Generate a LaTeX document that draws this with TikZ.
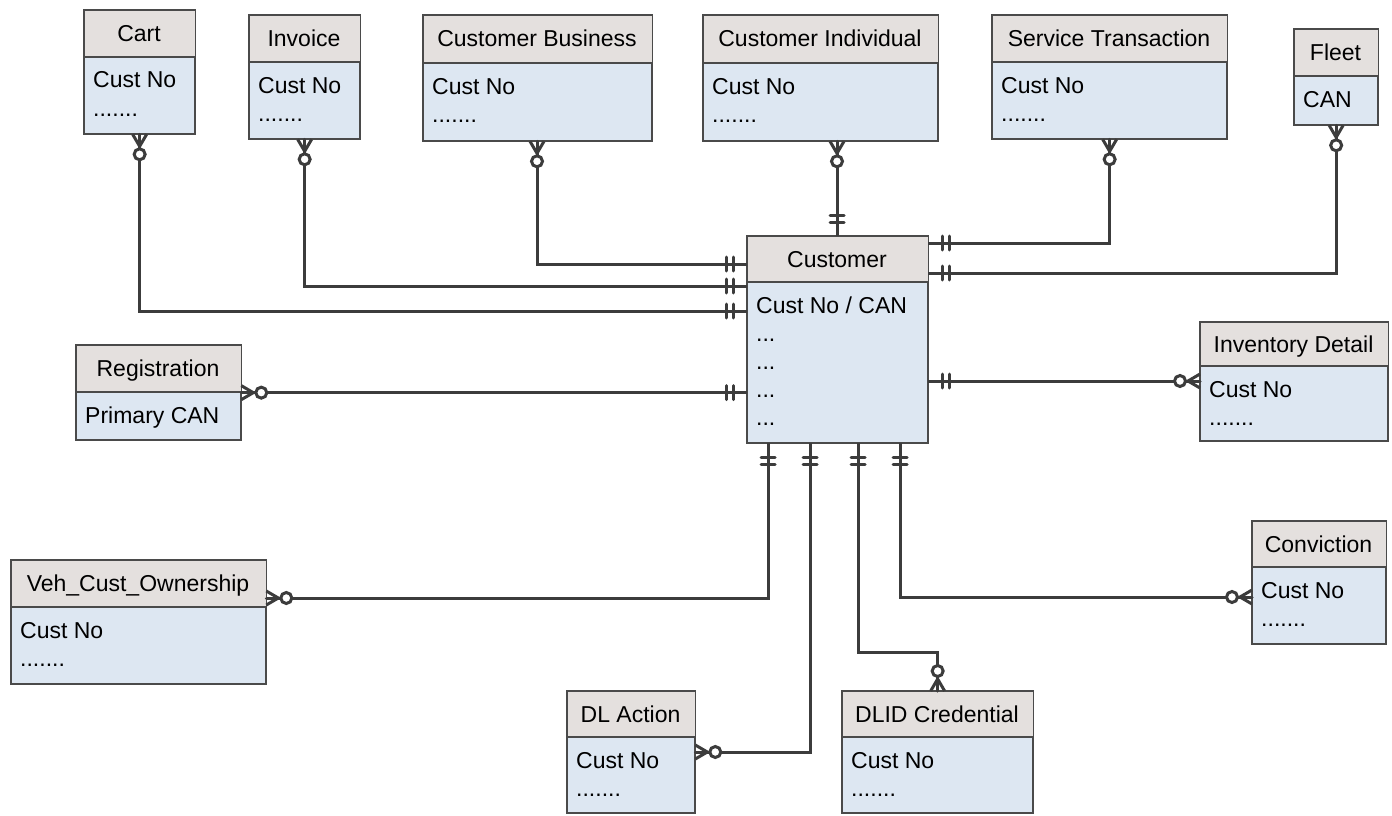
\documentclass[tikz,border=0pt]{standalone}
\usepackage{fontspec}
\setmainfont{Liberation Sans}
\definecolor{hdrfill}{HTML}{E4E0DE}
\definecolor{bodyfill}{HTML}{DDE7F2}
\definecolor{boxline}{HTML}{4A4A4A}
\definecolor{connline}{HTML}{3C3C3C}

% placeholder attribute rows
\newcommand\moreattrs{.......}
\newcommand\elided{...}

\tikzset{
  ent/.style={draw=boxline, line width=1.3pt, fill=bodyfill, inner sep=0pt, anchor=north west},
  txt/.style={font=\fontsize{23}{27}\selectfont, text=black, inner sep=0pt},
  conn/.style={draw=connline, line width=3pt},
  sym/.style={draw=connline, line width=3pt, line cap=round},
  % zero-or-many end: crow's foot at the box edge, open circle further out
  zeromany/.pic={
    \draw[sym, line cap=butt, line join=miter] (0,-7) -- (12,0) -- (0,7);
    \draw[sym] (0,0) -- (12,0);
    \draw[sym, fill=white] (20,0) circle (5.5);
  },
  % one-and-only-one end: two short bars
  mandone/.pic={
    \draw[sym] (14,-7) -- (14,7);
    \draw[sym] (21,-7) -- (21,7);
  }
}

% #1 name, #2 left, #3 top, #4 right, #5 header bottom, #6 bottom, #7 title, #8 attribute lines
\newcommand\erent[8]{%
  \node[ent, minimum width={(#4-#2)*1pt}, minimum height={(#6-#3)*1pt}] (#1) at (#2,-#3) {};
  \fill[hdrfill] (#1.north west) rectangle (#1.east |- 0,-#5);
  \draw[boxline, line width=1.3pt] (#1.north west) rectangle (#1.south east);
  \draw[boxline, line width=1.3pt] (#1.west |- 0,-#5) -- (#1.east |- 0,-#5);
  \node[txt, anchor=base] (#1-title) at ({(#2+#4)/2},{-(#3+#5)/2-8}) {#7};
  \foreach \ln [count=\k] in {#8}
    \node[txt, anchor=base west] (#1-attr\k) at ({#2+9},{-(#5+31+28*(\k-1))}) {\ln};
}

\begin{document}
\begin{tikzpicture}[x=1pt, y=1pt]
\useasboundingbox[fill=white] (0,0) rectangle (1392,-816);

% entities
\erent{cart}{84}{10}{194}{57}{133}{Cart}{Cust No,\moreattrs}
\erent{invoice}{249}{15}{359}{62}{138}{Invoice}{Cust No,\moreattrs}
\erent{cbus}{423}{15}{651}{63}{140}{Customer Business}{Cust No,\moreattrs}
\erent{cind}{703}{15}{937}{63}{140}{Customer Individual}{Cust No,\moreattrs}
\erent{svc}{992}{15}{1226}{62}{138}{Service Transaction}{Cust No,\moreattrs}
\erent{fleet}{1294}{29}{1377}{76}{124}{Fleet}{CAN}
\erent{cust}{747}{236}{927}{282}{442}{Customer}{Cust No / CAN,\elided,\elided,\elided,\elided}
\erent{reg}{76}{345}{240}{392}{439}{Registration}{Primary CAN}
\erent{inv}{1200}{322}{1387}{366}{440}{Inventory Detail}{Cust No,\moreattrs}
\erent{veh}{11}{560}{265}{607}{683}{Veh\_Cust\_Ownership}{Cust No,\moreattrs}
\erent{conv}{1252}{521}{1385}{567}{643}{Conviction}{Cust No,\moreattrs}
\erent{dla}{567}{691}{694}{737}{812}{DL Action}{Cust No,\moreattrs}
\erent{dlid}{842}{691}{1032}{737}{812}{DLID Credential}{Cust No,\moreattrs}

% relationships
\draw[conn] (cart.south) |- (cust.west |- 0,-311);
\draw[conn] (invoice.south) |- (cust.west |- 0,-286);
\draw[conn] (cbus.south -| 537,0) |- (cust.west |- 0,-264);
\draw[conn] (cind.south -| 837,0) -- (cust.north -| 837,0);
\draw[conn] (svc.south) |- (cust.east |- 0,-243);
\draw[conn] (fleet.south) |- (cust.east |- 0,-273);
\draw[conn] (reg.east) -- (cust.west |- reg.east);
\draw[conn] (cust.east |- 0,-381) -- (inv.west |- 0,-381);
\draw[conn] (veh.east |- 0,-598) -| (cust.south -| 768,0);
\draw[conn] (dla.east |- 0,-752) -| (cust.south -| 810,0);
\draw[conn] (cust.south -| 858,0) |- (dlid.north |- 0,-652) -- (dlid.north);
\draw[conn] (cust.south -| 900,0) |- (conv.west |- 0,-597);

% cardinality marks
\pic[rotate=-90] at (cart.south) {zeromany};
\pic[rotate=180] at (cust.west |- 0,-311) {mandone};
\pic[rotate=-90] at (invoice.south) {zeromany};
\pic[rotate=180] at (cust.west |- 0,-286) {mandone};
\pic[rotate=-90] at (cbus.south -| 537,0) {zeromany};
\pic[rotate=180] at (cust.west |- 0,-264) {mandone};
\pic[rotate=-90] at (cind.south -| 837,0) {zeromany};
\pic[rotate=90] at (cust.north -| 837,0) {mandone};
\pic[rotate=-90] at (svc.south) {zeromany};
\pic at (cust.east |- 0,-243) {mandone};
\pic[rotate=-90] at (fleet.south) {zeromany};
\pic at (cust.east |- 0,-273) {mandone};
\pic at (reg.east) {zeromany};
\pic[rotate=180] at (cust.west |- reg.east) {mandone};
\pic at (cust.east |- 0,-381) {mandone};
\pic[rotate=180] at (inv.west |- 0,-381) {zeromany};
\pic at (veh.east |- 0,-598) {zeromany};
\pic[rotate=-90] at (cust.south -| 768,0) {mandone};
\pic at (dla.east |- 0,-752) {zeromany};
\pic[rotate=-90] at (cust.south -| 810,0) {mandone};
\pic[rotate=-90] at (cust.south -| 858,0) {mandone};
\pic[rotate=90] at (dlid.north) {zeromany};
\pic[rotate=-90] at (cust.south -| 900,0) {mandone};
\pic[rotate=180] at (conv.west |- 0,-597) {zeromany};
\end{tikzpicture}
\end{document}
